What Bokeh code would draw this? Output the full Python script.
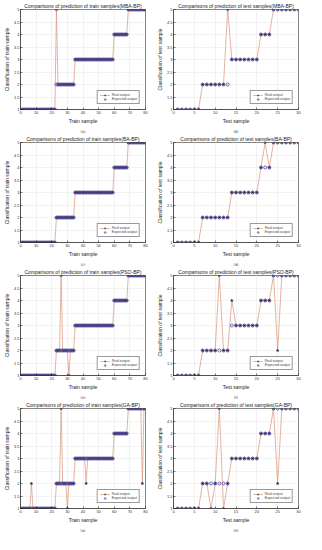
from bokeh.plotting import figure
from bokeh.layouts import gridplot
from bokeh.models import Title, Legend, LegendItem, FixedTicker, Range1d
from bokeh.embed import file_html
from bokeh.resources import INLINE

train_x = list(range(1, 81))
test_x = list(range(1, 31))

train_expected = [
    1, 1, 1, 1, 1, 1, 1, 1, 1, 1, 1, 1, 1, 1, 1, 1, 1, 1, 1, 1,
    1, 1, 2, 2, 2, 2, 2, 2, 2, 2, 2, 2, 2, 2, 3, 3, 3, 3, 3, 3,
    3, 3, 3, 3, 3, 3, 3, 3, 3, 3, 3, 3, 3, 3, 3, 3, 3, 3, 3, 4,
    4, 4, 4, 4, 4, 4, 4, 4, 5, 5, 5, 5, 5, 5, 5, 5, 5, 5, 5, 5,
]
train_real_mba = [
    1, 1, 1, 1, 1, 1, 1, 1, 1, 1, 1, 1, 1, 1, 1, 1, 1, 1, 1, 1,
    1, 1, 5, 2, 2, 2, 2, 2, 2, 2, 2, 2, 2, 2, 3, 3, 3, 3, 3, 3,
    3, 3, 3, 3, 3, 3, 3, 3, 3, 3, 3, 3, 3, 3, 3, 3, 3, 3, 3, 4,
    4, 4, 4, 4, 4, 4, 4, 4, 5, 5, 5, 5, 5, 5, 5, 5, 5, 5, 5, 5,
]
train_real_ba = [
    1, 1, 1, 1, 1, 1, 1, 1, 1, 1, 1, 1, 1, 1, 1, 1, 1, 1, 1, 1,
    1, 1, 2, 2, 2, 2, 2, 2, 2, 2, 2, 2, 2, 2, 3, 3, 3, 3, 3, 3,
    3, 3, 3, 3, 3, 3, 3, 3, 3, 3, 3, 3, 3, 3, 3, 3, 3, 3, 3, 4,
    4, 4, 4, 4, 4, 4, 4, 4, 5, 5, 5, 5, 5, 5, 5, 5, 5, 5, 5, 5,
]
train_real_pso = [
    1, 1, 1, 1, 1, 1, 1, 1, 1, 1, 1, 1, 1, 1, 1, 1, 1, 1, 1, 1,
    1, 1, 2, 2, 2, 5, 2, 2, 2, 2, 1, 2, 2, 2, 3, 3, 3, 3, 3, 3,
    3, 3, 3, 3, 3, 3, 3, 3, 3, 3, 3, 3, 3, 3, 3, 3, 3, 3, 3, 4,
    4, 4, 4, 4, 4, 4, 4, 4, 5, 5, 5, 5, 5, 5, 5, 5, 5, 5, 5, 5,
]
train_real_ga = [
    1, 1, 1, 1, 1, 1, 2, 1, 1, 1, 1, 1, 1, 1, 1, 1, 1, 1, 1, 1,
    1, 1, 2, 2, 2, 5, 2, 2, 2, 1, 2, 2, 2, 2, 3, 3, 3, 3, 3, 3,
    3, 2, 3, 3, 3, 3, 3, 3, 3, 3, 3, 3, 3, 3, 3, 3, 3, 3, 3, 4,
    4, 4, 4, 4, 4, 4, 4, 4, 5, 5, 5, 5, 5, 5, 5, 5, 5, 2, 5, 5,
]

test_expected = [1, 1, 1, 1, 1, 1, 2, 2, 2, 2, 2, 2, 2, 3, 3,
                 3, 3, 3, 3, 3, 4, 4, 4, 5, 5, 5, 5, 5, 5, 5]
test_real_mba = [1, 1, 1, 1, 1, 1, 2, 2, 2, 2, 2, 2, 5, 3, 3,
                 3, 3, 3, 3, 3, 4, 4, 4, 5, 5, 5, 5, 5, 5, 5]
test_real_ba = [1, 1, 1, 1, 1, 1, 2, 2, 2, 2, 2, 2, 2, 3, 3,
                3, 3, 3, 3, 3, 4, 5, 4, 5, 5, 5, 5, 5, 5, 5]
test_real_pso = [1, 1, 1, 1, 1, 1, 2, 2, 2, 2, 5, 2, 2, 4, 3,
                 3, 3, 3, 3, 3, 4, 4, 4, 5, 2, 5, 5, 5, 5, 5]
test_real_ga = [1, 1, 1, 1, 1, 1, 2, 2, 1, 2, 5, 1, 2, 3, 3,
                3, 3, 3, 3, 3, 4, 4, 4, 5, 2, 5, 5, 5, 5, 5]

y_ticks = [1, 1.5, 2, 2.5, 3, 3.5, 4, 4.5, 5]
y_tick_labels = ["1", "1.5", "2", "2.5", "3", "3.5", "4", "4.5", "5"]
train_x_ticks = [0, 10, 20, 30, 40, 50, 60, 70, 80]
test_x_ticks = [0, 5, 10, 15, 20, 25, 30]

FONT = "Liberation Sans"
REAL_LINE = "#d9947a"
REAL_MARK = "#2e2a48"
EXP_COLOR = "#4f4596"


def panel(x, real, expected, kind, algo, caption, xmax, xticks):
    p = figure(width=153, height=133, output_backend="svg", toolbar_location=None,
               x_range=Range1d(0, xmax), y_range=Range1d(1, 5),
               min_border_left=4, min_border_right=8, min_border_top=2,
               min_border_bottom=0)
    p.title.text = f"Comparisons of prediction of {kind} samples({algo})"
    p.title.text_font = FONT
    p.title.text_font_size = "5px"
    p.title.text_font_style = "normal"
    p.title.align = "center"
    p.title.standoff = 1
    p.title.text_color = "#222222"
    p.outline_line_color = "#333333"
    p.outline_line_width = 0.6
    p.grid.grid_line_color = "#e4e4e4"
    p.grid.grid_line_width = 0.5
    p.xaxis.ticker = FixedTicker(ticks=xticks)
    p.yaxis.ticker = FixedTicker(ticks=y_ticks)
    p.yaxis.major_label_overrides = {t: s for t, s in zip(y_ticks, y_tick_labels)}
    p.xaxis.axis_label = "Train sample" if kind == "train" else "Test sample"
    p.yaxis.axis_label = ("Classification of train sample" if kind == "train"
                          else "Classification of test sample")
    for ax in (p.xaxis[0], p.yaxis[0]):
        ax.axis_label_text_font = FONT
        ax.axis_label_text_font_size = "5px"
        ax.axis_label_text_font_style = "normal"
        ax.axis_label_standoff = 1
        ax.major_label_text_font = FONT
        ax.major_label_text_font_size = "4px"
        ax.major_label_standoff = 1
        ax.major_tick_in = 2
        ax.major_tick_out = 0
        ax.minor_tick_in = 0
        ax.minor_tick_out = 0
        ax.axis_line_color = "#333333"
        ax.axis_line_width = 0.6
        ax.major_tick_line_width = 0.5
        ax.axis_label_text_color = "#222222"
        ax.major_label_text_color = "#333333"

    ln = p.line(x, real, line_color=REAL_LINE, line_width=0.7)
    st = p.scatter(x, real, marker="star", size=3, fill_color=REAL_MARK,
                   line_color=REAL_MARK, line_width=0.4)
    ci = p.scatter(x, expected, marker="circle", size=3, fill_color=None,
                   line_color=EXP_COLOR, line_width=0.8)

    legend = Legend(items=[LegendItem(label="Real output", renderers=[ln, st]),
                           LegendItem(label="Expected output", renderers=[ci])],
                    location="bottom_right")
    legend.label_text_font = FONT
    legend.label_text_font_size = "3.5px"
    legend.glyph_width = 10
    legend.glyph_height = 4
    legend.label_height = 4
    legend.label_standoff = 2
    legend.spacing = 0
    legend.padding = 2
    legend.margin = 5
    legend.border_line_color = "#333333"
    legend.border_line_width = 0.5
    p.add_layout(legend)

    p.add_layout(Title(text=caption, align="center", text_font=FONT,
                       text_font_size="4px", text_font_style="normal",
                       standoff=0), "below")
    return p


a = panel(train_x, train_real_mba, train_expected, "train", "MBA-BP", "(a)", 80, train_x_ticks)
b = panel(test_x, test_real_mba, test_expected, "test", "MBA-BP", "(b)", 30, test_x_ticks)
c = panel(train_x, train_real_ba, train_expected, "train", "BA-BP", "(c)", 80, train_x_ticks)
d = panel(test_x, test_real_ba, test_expected, "test", "BA-BP", "(d)", 30, test_x_ticks)
e = panel(train_x, train_real_pso, train_expected, "train", "PSO-BP", "(e)", 80, train_x_ticks)
f = panel(test_x, test_real_pso, test_expected, "test", "PSO-BP", "(f)", 30, test_x_ticks)
g = panel(train_x, train_real_ga, train_expected, "train", "GA-BP", "(g)", 80, train_x_ticks)
h = panel(test_x, test_real_ga, test_expected, "test", "GA-BP", "(h)", 30, test_x_ticks)

layout = gridplot([[a, b], [c, d], [e, f], [g, h]], toolbar_location=None)

open("out.html", "w").write(file_html(layout, INLINE))
